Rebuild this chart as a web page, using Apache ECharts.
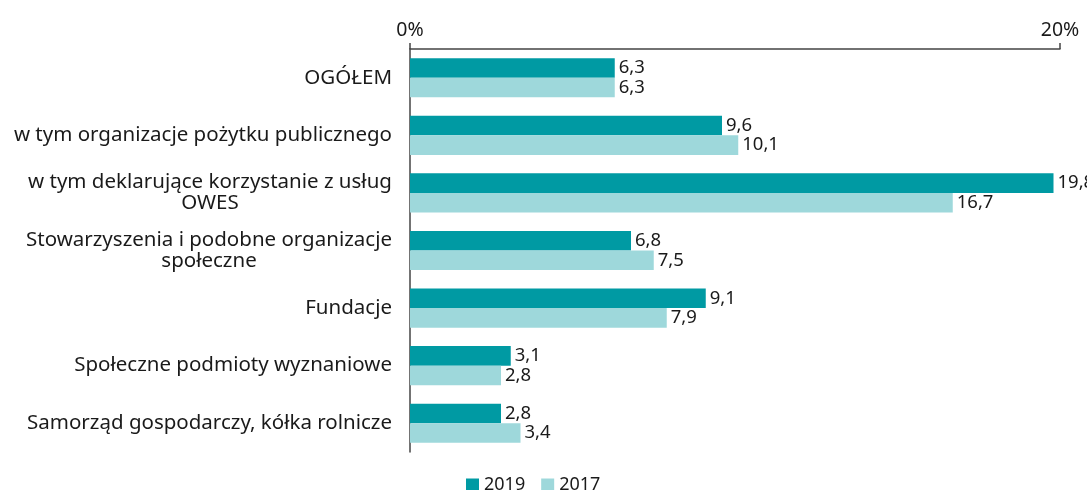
<!DOCTYPE html>
<html><head><meta charset="utf-8">
<script src="https://cdn.jsdelivr.net/npm/echarts@6/dist/echarts.min.js"></script>
<style>html,body{margin:0;padding:0;background:#fff}#c{width:1087px;height:490px}</style>
</head><body><div id="c"></div>
<script>
const categories = [
  "OGÓŁEM",
  "w tym organizacje pożytku publicznego",
  "w tym deklarujące korzystanie z usług\nOWES",
  "Stowarzyszenia i podobne organizacje\nspołeczne",
  "Fundacje",
  "Społeczne podmioty wyznaniowe",
  "Samorząd gospodarczy, kółka rolnicze"
];
const values2019 = [6.3, 9.6, 19.8, 6.8, 9.1, 3.1, 2.8];
const values2017 = [6.3, 10.1, 16.7, 7.5, 7.9, 2.8, 3.4];
const xTicks = [0, 20];

const FONT = "Noto Sans";
const CAT_SIZE = 20.5;
const ctx = document.createElement('canvas').getContext('2d');
ctx.font = CAT_SIZE + 'px "' + FONT + '"';
const chart = echarts.init(document.getElementById('c'));
const lbl = {
  show: true, position: 'right', distance: 4,
  fontFamily: FONT, fontSize: 18.5, color: '#1a1a1a',
  formatter: p => String(p.value).replace('.', ',')
};
function richKey(c) {
  const w = Math.ceil(Math.max(...c.split('\n').map(s => ctx.measureText(s).width)));
  return 'c' + w;
}
chart.setOption({
  animation: false,
  textStyle: {fontFamily: FONT},
  grid: {left: 410, right: 27, top: 49, bottom: 38, containLabel: false},
  legend: {
    bottom: -9, left: 461, itemWidth: 13, itemHeight: 13, itemGap: 16,
    icon: 'rect', textStyle: {fontFamily: FONT, fontSize: 18, color: '#1a1a1a'},
    data: ['2019', '2017']
  },
  xAxis: {
    type: 'value', position: 'top', min: xTicks[0], max: xTicks[1], interval: 20,
    axisLine: {show: true, lineStyle: {color: '#444', width: 1.5}},
    axisTick: {show: true, length: 6, lineStyle: {color: '#444', width: 1.5}},
    splitLine: {show: false},
    axisLabel: {formatter: '{value}%', fontFamily: FONT, fontSize: 19.5, color: '#1a1a1a', margin: 9}
  },
  yAxis: {
    type: 'category', inverse: true, data: categories,
    axisLine: {show: true, lineStyle: {color: '#444', width: 1.5}},
    axisTick: {show: false},
    axisLabel: {
      margin: 18, fontFamily: FONT, fontSize: CAT_SIZE, color: '#1a1a1a', lineHeight: 21,
      formatter: v => {
        if (v.indexOf('\n') < 0) return v;
        const k = richKey(v);
        return v.split('\n').map(s => '{' + k + '|' + s + '}').join('\n');
      },
      rich: (() => {
        const r = {};
        categories.filter(c => c.indexOf('\n') >= 0).forEach(c => {
          const k = richKey(c);
          r[k] = {width: +k.slice(1), align: 'center', fontFamily: FONT, fontSize: CAT_SIZE, color: '#1a1a1a', lineHeight: 21};
        });
        return r;
      })()
    }
  },
  series: [
    {name: '2019', type: 'bar', data: values2019, barGap: '0%', barCategoryGap: '32%',
     itemStyle: {color: '#009aa3'}, label: lbl},
    {name: '2017', type: 'bar', data: values2017, barGap: '0%', barCategoryGap: '32%',
     itemStyle: {color: '#9ed8db'}, label: lbl}
  ]
});
</script></body></html>
